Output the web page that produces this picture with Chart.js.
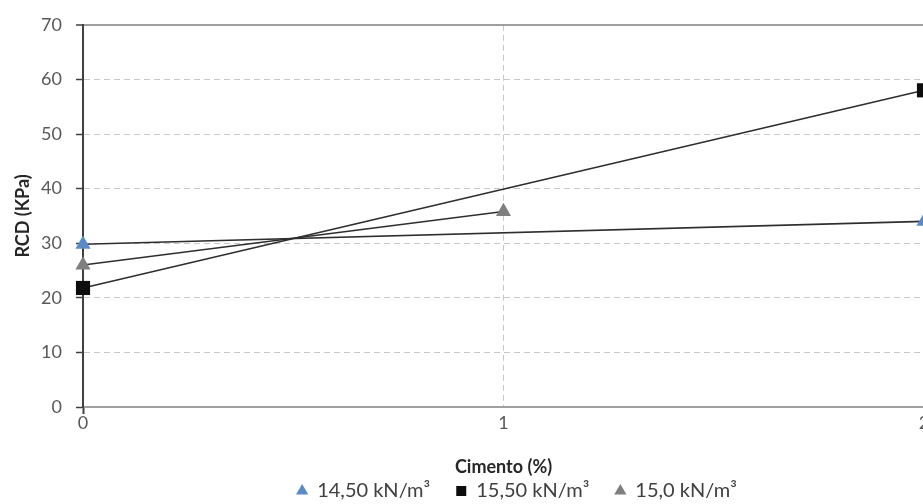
<!DOCTYPE html>
<html lang="pt">
<head>
<meta charset="UTF-8">
<title>RCD x Cimento</title>
<script src="https://cdn.jsdelivr.net/npm/chart.js@4.4.0/dist/chart.umd.min.js"></script>
<style>
  html, body { margin: 0; padding: 0; background: #fff; overflow: hidden; }
  #rcdChart { display: block; }
</style>
</head>
<body>
<canvas id="rcdChart" width="1034" height="511"></canvas>
<script>
// cement content (%) and RCD (kPa) per dry unit weight
const xTicks = [0, 1, 2];
const yTicks = [0, 10, 20, 30, 40, 50, 60, 70];
const seriesNames = ['14,50 kN/m³', '15,50 kN/m³', '15,0 kN/m³'];

const cim1450 = [0, 2];
const rcd1450 = [29.8, 34.0];
const cim1550 = [0, 2];
const rcd1550 = [21.8, 58.0];
const cim1500 = [0, 1];
const rcd1500 = [26.0, 35.8];

const pts = (xs, ys) => xs.map((x, i) => ({ x: x, y: ys[i] }));

const FONT = 'Lato';
const gridDash = [6, 4];

const ctx = document.getElementById('rcdChart').getContext('2d');
new Chart(ctx, {
    type: 'line',
    data: {
        datasets: [
            {
                label: seriesNames[0],
                data: pts(cim1450, rcd1450),
                borderColor: '#2e2e2e',
                borderWidth: 1.6,
                clip: false,
                pointStyle: 'triangle',
                pointRadius: 8.7,
                pointBackgroundColor: '#5b8bc7',
                pointBorderColor: '#5b8bc7',
                pointBorderWidth: 0
            },
            {
                label: seriesNames[1],
                data: pts(cim1550, rcd1550),
                borderColor: '#2e2e2e',
                borderWidth: 1.6,
                clip: false,
                pointStyle: 'rect',
                pointRadius: 10,
                pointBackgroundColor: '#0d0d0d',
                pointBorderColor: '#0d0d0d',
                pointBorderWidth: 0
            },
            {
                label: seriesNames[2],
                data: pts(cim1500, rcd1500),
                borderColor: '#2e2e2e',
                borderWidth: 1.6,
                clip: false,
                pointStyle: 'triangle',
                pointRadius: 8.7,
                pointBackgroundColor: '#7f7f7f',
                pointBorderColor: '#7f7f7f',
                pointBorderWidth: 0
            }
        ]
    },
    options: {
        responsive: false,
        animation: false,
        layout: { padding: { top: 24, left: 0, right: 0, bottom: 0 } },
        scales: {
            x: {
                type: 'linear',
                min: xTicks[0],
                max: xTicks[xTicks.length - 1],
                afterBuildTicks: s => { s.ticks = xTicks.map(v => ({ value: v })); },
                afterFit: s => { s.height = 48; },
                grid: {
                    color: '#c8c8c8',
                    lineWidth: 1,
                    tickLength: 7,
                    tickWidth: 2,
                    tickColor: c => (c.tick && c.tick.value === 0 ? '#404040' : 'rgba(0,0,0,0)')
                },
                border: { display: true, color: '#a0a0a0', width: 2, dash: gridDash },
                ticks: {
                    padding: -2,
                    color: '#595959',
                    font: { family: FONT, size: 18 }
                },
                title: {
                    display: true,
                    text: 'Cimento (%)',
                    color: '#262626',
                    font: { family: FONT, size: 18, weight: 'bold' },
                    padding: { top: 0, bottom: -23 }
                }
            },
            y: {
                min: yTicks[0],
                max: yTicks[yTicks.length - 1],
                afterBuildTicks: s => { s.ticks = yTicks.map(v => ({ value: v })); },
                afterFit: s => { s.width = 83; },
                grid: {
                    color: c => (c.tick && c.tick.value === 70 ? '#a0a0a0' : '#c8c8c8'),
                    lineWidth: c => (c.tick && c.tick.value === 70 ? 2 : 1),
                    tickLength: 7,
                    tickWidth: 1.5,
                    tickColor: '#404040'
                },
                border: {
                    display: true,
                    color: '#404040',
                    width: 2,
                    dash: c => (c.tick && c.tick.value === 70 ? [] : gridDash)
                },
                ticks: {
                    padding: 14,
                    color: '#595959',
                    font: { family: FONT, size: 18 }
                },
                title: {
                    display: true,
                    text: 'RCD (KPa)',
                    color: '#262626',
                    font: { family: FONT, size: 18, weight: 'bold' },
                    padding: { top: 12, bottom: 0 }
                }
            },
            // empty right-hand axis: the plot stops short of the canvas edge
            spacer: {
                position: 'right',
                display: true,
                grid: { display: false },
                border: { display: false },
                ticks: { display: false },
                afterFit: s => { s.width = 110; }
            }
        },
        plugins: {
            legend: {
                position: 'bottom',
                labels: {
                    usePointStyle: true,
                    boxWidth: 10,
                    boxHeight: 10,
                    padding: 26,
                    color: '#404040',
                    font: { family: FONT, size: 20 }
                }
            },
            tooltip: { enabled: false }
        }
    }
});
</script>
</body>
</html>
